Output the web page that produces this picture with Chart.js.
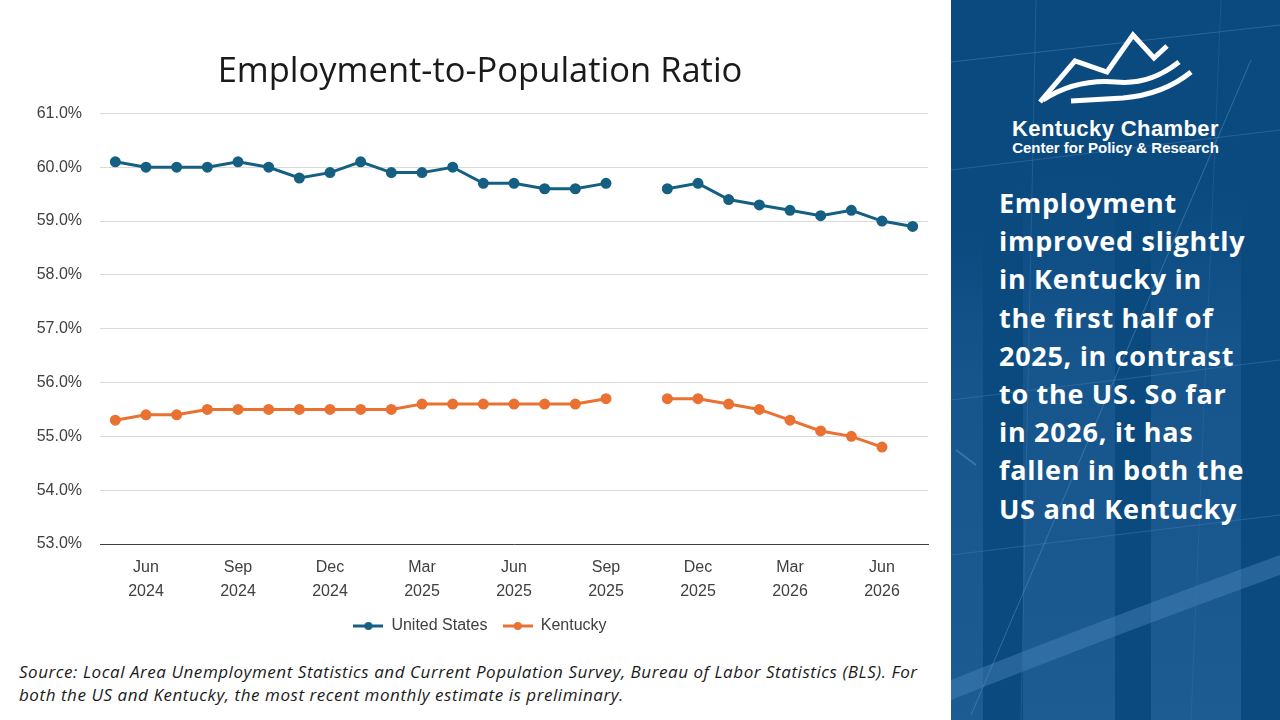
<!DOCTYPE html>
<html>
<head>
<meta charset="utf-8">
<script src="https://cdn.jsdelivr.net/npm/chart.js@4.4.1/dist/chart.umd.min.js"></script>
<style>
  html, body { margin:0; padding:0; width:1280px; height:720px; overflow:hidden; background:#fff; font-family:"Liberation Sans", Arial, sans-serif; }
  #chartWrap { position:absolute; left:0; top:0; width:950px; height:644px; }
  #source { position:absolute; left:19px; top:660px; width:930px; font-style:italic; font-size:17px; letter-spacing:0.55px; line-height:23px; color:#1a1a1a; font-family:"Open Sans", "Liberation Sans", sans-serif; white-space:nowrap; }
  #panel { position:absolute; left:951px; top:0; width:329px; height:720px; background:#0b4a7f; overflow:hidden; }
  #panel svg.bg { position:absolute; left:0; top:0; }
  #logoText1 { position:absolute; left:0; width:329px; top:116px; text-align:center; color:#fff; font-weight:bold; font-size:22px; letter-spacing:0.4px; font-family:"Liberation Sans", Arial, sans-serif; }
  #logoText2 { position:absolute; left:0; width:329px; top:139px; text-align:center; color:#fff; font-weight:bold; font-size:15px; letter-spacing:0px; font-family:"Liberation Sans", Arial, sans-serif; }
  #message { position:absolute; left:48px; top:184px; color:#fff; font-weight:bold; font-size:27px; line-height:38.2px; font-family:"Open Sans", "Noto Sans", sans-serif; letter-spacing:0.7px; white-space:nowrap; }
</style>
</head>
<body>
<div id="chartWrap"><canvas id="c" width="950" height="644"></canvas></div>
<div id="source">Source: Local Area Unemployment Statistics and Current Population Survey, Bureau of Labor Statistics (BLS). For<br>both the US and Kentucky, the most recent monthly estimate is preliminary.</div>
<div id="panel">
  <svg class="bg" width="329" height="720" viewBox="0 0 329 720">
    <defs>
      <linearGradient id="fade" x1="0" y1="0" x2="0" y2="1">
        <stop offset="0" stop-color="#2a6aa3" stop-opacity="0"/>
        <stop offset="0.3" stop-color="#2a6aa3" stop-opacity="0.35"/>
        <stop offset="1" stop-color="#2a6aa3" stop-opacity="0.55"/>
      </linearGradient>
    </defs>
    <rect x="0" y="230" width="32" height="490" fill="url(#fade)"/>
    <rect x="72" y="180" width="92" height="540" fill="url(#fade)"/>
    <rect x="200" y="190" width="90" height="530" fill="url(#fade)"/>
    <path d="M0 680 Q 150 620 329 555 L 329 575 Q 150 640 0 700 Z" fill="#4a86bb" opacity="0.45"/>
    <line x1="0" y1="62" x2="329" y2="25" stroke="#3d79b0" stroke-width="1" opacity="0.6"/>
    <line x1="0" y1="170" x2="329" y2="130" stroke="#3d79b0" stroke-width="1" opacity="0.5"/>
    <line x1="0" y1="400" x2="329" y2="360" stroke="#3d79b0" stroke-width="1" opacity="0.5"/>
    <line x1="0" y1="555" x2="329" y2="515" stroke="#3d79b0" stroke-width="1" opacity="0.5"/>
    <line x1="85" y1="0" x2="70" y2="720" stroke="#3d79b0" stroke-width="1" opacity="0.4"/>
    <line x1="270" y1="0" x2="240" y2="720" stroke="#3d79b0" stroke-width="1" opacity="0.3"/>
    <line x1="20" y1="715" x2="300" y2="60" stroke="#5a90c2" stroke-width="1" opacity="0.5"/>
    <line x1="5" y1="450" x2="25" y2="465" stroke="#5a90c2" stroke-width="2" opacity="0.5"/>
    <!-- logo -->
    <g fill="none" stroke="#fff" stroke-linejoin="miter">
      <polyline points="89,102 124,61 156,72 182,35 203,58 216,46" stroke-width="5"/>
      <path d="M92,100 C115,85 140,80 165,82 C185,84 205,80 228,62" stroke-width="5"/>
      <path d="M120,101 L172,98 C195,96 218,90 240,72" stroke-width="5"/>
    </g>
  </svg>
  <div id="logoText1">Kentucky Chamber</div>
  <div id="logoText2">Center for Policy &amp; Research</div>
  <div id="message">Employment<br>improved slightly<br>in Kentucky in<br>the first half of<br>2025, in contrast<br>to the US. So far<br>in 2026, it has<br>fallen in both the<br>US and Kentucky</div>
</div>
<script>
const months = ['May','Jun','Jul','Aug','Sep','Oct','Nov','Dec',
  'Jan','Feb','Mar','Apr','May','Jun','Jul','Aug','Sep','Oct','Nov','Dec',
  'Jan','Feb','Mar','Apr','May','Jun','Jul'];
const years = ['2024','2024','2024','2024','2024','2024','2024','2024',
  '2025','2025','2025','2025','2025','2025','2025','2025','2025','2025','2025','2025',
  '2026','2026','2026','2026','2026','2026','2026'];
const shownMonths = ['Mar','Jun','Sep','Dec'];
const usValues = [60.1,60.0,60.0,60.0,60.1,60.0,59.8,59.9,
  60.1,59.9,59.9,60.0,59.7,59.7,59.6,59.6,59.7,null,59.6,59.7,
  59.4,59.3,59.2,59.1,59.2,59.0,58.9];
const kyValues = [55.3,55.4,55.4,55.5,55.5,55.5,55.5,55.5,
  55.5,55.5,55.6,55.6,55.6,55.6,55.6,55.6,55.7,null,55.7,55.7,
  55.6,55.5,55.3,55.1,55.0,54.8,null];
const seriesNames = ['United States','Kentucky'];
const US_COLOR = '#156082';
const KY_COLOR = '#E97132';

const labels = months.map((m,i) => [m, years[i]]);

function legendIcon(color){
  const cv = document.createElement('canvas');
  cv.width = 30; cv.height = 12;
  const g = cv.getContext('2d');
  g.strokeStyle = color; g.lineWidth = 3;
  g.beginPath(); g.moveTo(0,6); g.lineTo(30,6); g.stroke();
  g.fillStyle = color; g.beginPath(); g.arc(15,6,4,0,Math.PI*2); g.fill();
  return cv;
}
const icons = [legendIcon(US_COLOR), legendIcon(KY_COLOR)];

new Chart(document.getElementById('c'), {
  type: 'line',
  data: {
    labels: labels,
    datasets: [
      { label: seriesNames[0], data: usValues, borderColor: US_COLOR, backgroundColor: US_COLOR,
        borderWidth: 3, pointRadius: 4, pointHoverRadius: 4, spanGaps: false, tension: 0 },
      { label: seriesNames[1], data: kyValues, borderColor: KY_COLOR, backgroundColor: KY_COLOR,
        borderWidth: 3, pointRadius: 4, pointHoverRadius: 4, spanGaps: false, tension: 0 }
    ]
  },
  options: {
    responsive: false,
    animation: false,
    layout: { padding: { left: 32, right: 22, top: 0, bottom: 0 } },
    plugins: {
      title: {
        display: true,
        text: 'Employment-to-Population Ratio',
        color: '#1a1a1a',
        font: { family: '"Open Sans", "Liberation Sans", sans-serif', size: 34.5, weight: 'normal', lineHeight: 1.2 },
        padding: { top: 51, bottom: 21 }
      },
      legend: {
        position: 'bottom',
        labels: {
          usePointStyle: true,
          pointStyleWidth: 30,
          color: '#404040',
          font: { family: '"Liberation Sans", Arial, sans-serif', size: 16 },
          padding: 2,
          generateLabels: (chart) => chart.data.datasets.map((ds, i, arr) => ({
            text: ds.label + (i < arr.length - 1 ? '   ' : ''), fillStyle: ds.borderColor, strokeStyle: ds.borderColor,
            pointStyle: icons[i], datasetIndex: i, hidden: false, lineWidth: 0, fontColor: '#404040'
          }))
        }
      },
      tooltip: { enabled: false }
    },
    scales: {
      x: {
        offset: true,
        grid: { display: false, drawTicks: false },
        border: { display: true, color: '#404040', width: 1 },
        ticks: {
          autoSkip: false, maxRotation: 0, minRotation: 0, padding: 12,
          color: '#404040',
          font: { family: '"Liberation Sans", Arial, sans-serif', size: 16, lineHeight: 1.5 },
          callback: function(v, i){ return shownMonths.includes(months[i]) ? labels[i] : ''; }
        }
      },
      y: {
        min: 53, max: 61,
        afterFit: (scale) => { scale.width = 68; },
        grid: { color: '#d9d9d9', drawTicks: false, lineWidth: 1 },
        border: { display: false },
        ticks: {
          stepSize: 1, padding: 18,
          color: '#404040',
          font: { family: '"Liberation Sans", Arial, sans-serif', size: 16 },
          callback: v => v.toFixed(1) + '%'
        }
      }
    }
  }
});
</script>
</body>
</html>
